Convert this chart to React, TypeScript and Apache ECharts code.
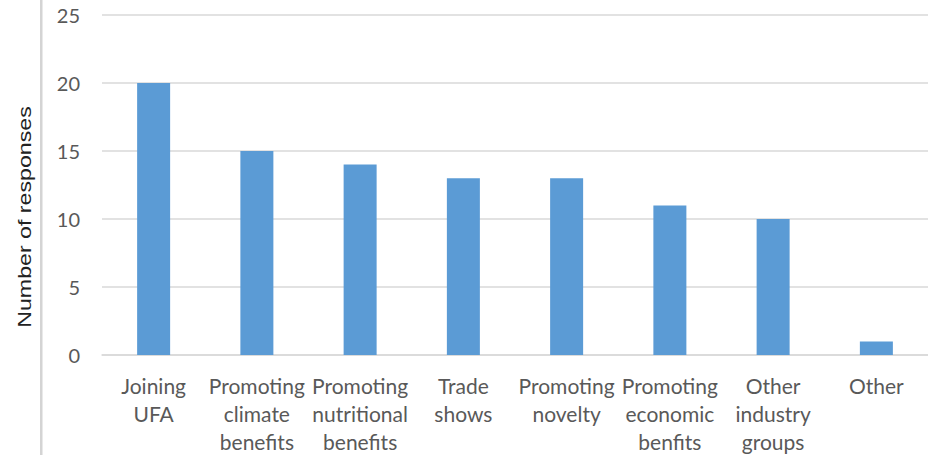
import React, { useEffect, useRef } from "react";
import * as echarts from "echarts";

const categories = [
  "Joining\nUFA",
  "Promoting\nclimate\nbenefits",
  "Promoting\nnutritional\nbenefits",
  "Trade\nshows",
  "Promoting\nnovelty",
  "Promoting\neconomic\nbenfits",
  "Other\nindustry\ngroups",
  "Other",
];
const responses = [20, 15, 14, 13, 13, 11, 10, 1];
const yTicks = { min: 0, max: 25, interval: 5 };
const yAxisTitle = "Number of responses";

export default function App() {
  const ref = useRef<HTMLDivElement>(null);

  useEffect(() => {
    if (!ref.current) return;
    const chart = echarts.init(ref.current, null, { renderer: "svg" });
    chart.setOption({
      animation: false,
      backgroundColor: "#ffffff",
      grid: { left: 102, right: -3, top: 15, bottom: 97, containLabel: false },
      xAxis: {
        type: "category",
        data: categories,
        axisTick: { show: false },
        axisLine: { show: true, lineStyle: { color: "#d9d9d9", width: 1.5 } },
        axisLabel: {
          interval: 0,
          margin: 16,
          fontFamily: "Lato",
          fontSize: 21,
          lineHeight: 28,
          color: "#595959",
        },
      },
      yAxis: {
        type: "value",
        min: yTicks.min,
        max: yTicks.max,
        interval: yTicks.interval,
        axisLine: { show: false },
        axisTick: { show: false },
        splitLine: { lineStyle: { color: "#d9d9d9", width: 1.5 } },
        axisLabel: {
          margin: 22,
          fontFamily: "Lato",
          fontSize: 20,
          color: "#595959",
        },
      },
      series: [
        {
          type: "bar",
          data: responses,
          barWidth: 33,
          itemStyle: { color: "#5B9BD5" },
        },
      ],
      graphic: [
        {
          type: "rect",
          shape: { x: 40, y: 0, width: 2.5, height: 455 },
          style: { fill: "#d4d4d4" },
          silent: true,
        },
        {
          type: "text",
          x: 24,
          y: 217,
          rotation: Math.PI / 2,
          scaleX: 1.22,
          style: {
            text: yAxisTitle,
            fontFamily: "Liberation Sans",
            fontSize: 19,
            fill: "#222222",
            align: "center",
            verticalAlign: "middle",
          },
        },
      ],
    });
    return () => chart.dispose();
  }, []);

  return (
    <div
      ref={ref}
      style={{ position: "fixed", left: 0, top: 0, width: 928, height: 455 }}
    />
  );
}
